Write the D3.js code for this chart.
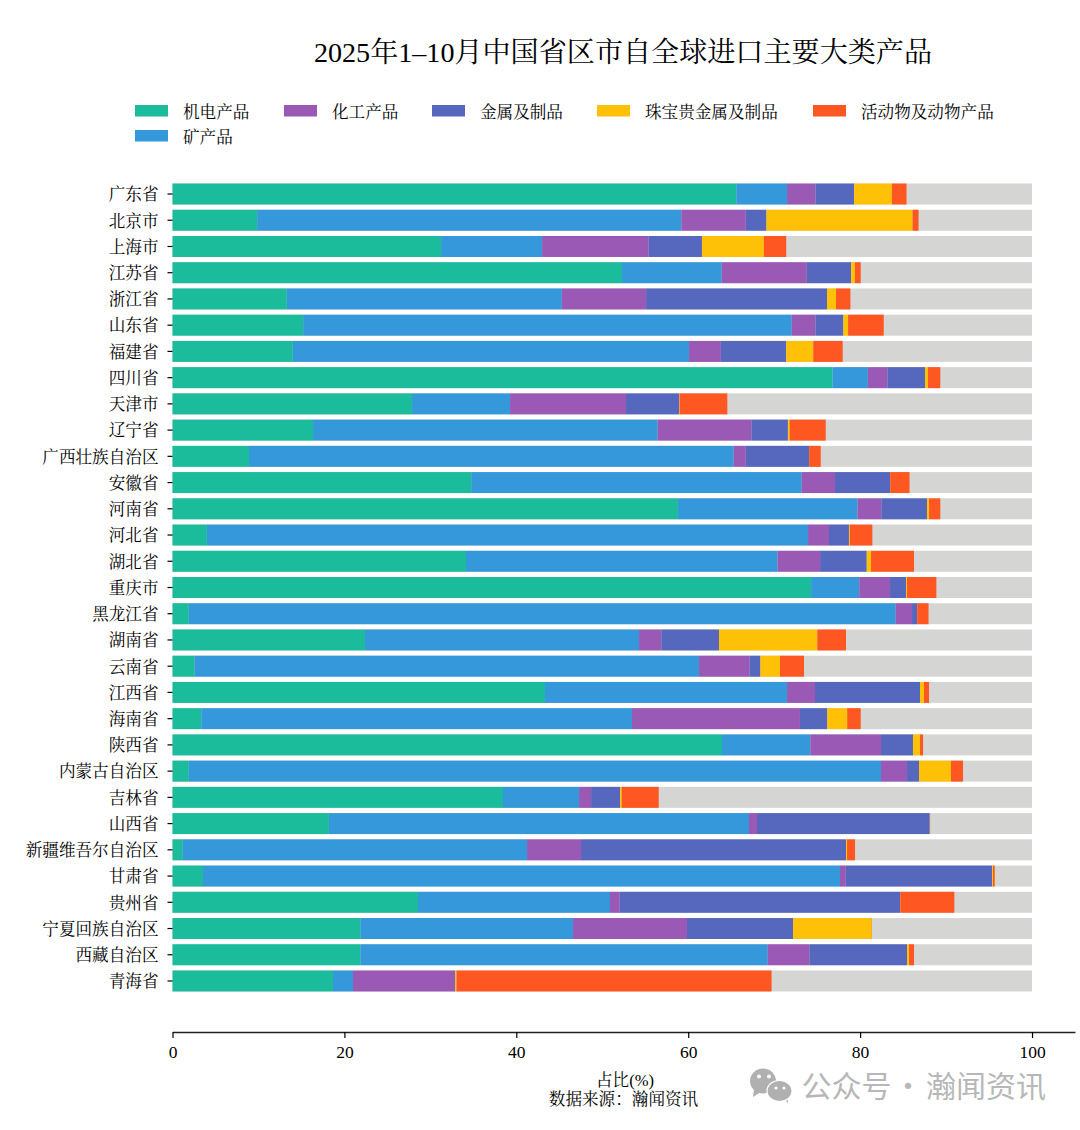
<!DOCTYPE html>
<html>
<head>
<meta charset="utf-8">
<script src="https://cdn.jsdelivr.net/npm/d3@7"></script>
<style>
  html, body { margin: 0; padding: 0; background: #fff; }
  svg { display: block; }
  text { font-family: "Liberation Serif", "Noto Serif CJK SC", "Noto Sans CJK SC", serif; fill: #000; }
  .watermark { font-family: "Noto Sans CJK SC", sans-serif; fill: #b7b7b7; }
</style>
</head>
<body>
<div id="chart"></div>
<script>
// =====================================
// DATA
// =====================================

const provinces = ["广东省", "北京市", "上海市", "江苏省", "浙江省", "山东省", "福建省", "四川省", "天津市", "辽宁省", "广西壮族自治区", "安徽省", "河南省", "河北省", "湖北省", "重庆市", "黑龙江省", "湖南省", "云南省", "江西省", "海南省", "陕西省", "内蒙古自治区", "吉林省", "山西省", "新疆维吾尔自治区", "甘肃省", "贵州省", "宁夏回族自治区", "西藏自治区", "青海省"];

const categories = ["机电产品", "矿产品", "化工产品", "金属及制品", "珠宝贵金属及制品", "活动物及动物产品"];

const jidian = [65.6, 9.85, 31.25, 52.3, 13.3, 15.2, 14.0, 76.8, 27.87, 16.35, 8.9, 34.75, 58.8, 4.0, 34.15, 74.3, 1.9, 22.4, 2.55, 43.34, 3.35, 63.93, 1.9, 38.45, 18.2, 1.2, 3.55, 28.56, 21.85, 21.85, 18.67];
const kuang = [5.9, 49.35, 11.75, 11.6, 32.0, 56.84, 46.1, 4.1, 11.4, 40.1, 56.4, 38.45, 20.9, 69.94, 36.25, 5.6, 82.24, 31.88, 58.71, 28.16, 50.11, 10.27, 80.53, 8.85, 48.87, 40.05, 74.11, 22.34, 24.75, 47.4, 2.33];
const huagong = [3.3, 7.5, 12.4, 9.9, 9.8, 2.76, 3.7, 2.27, 13.49, 10.9, 1.4, 3.88, 2.77, 2.44, 4.94, 3.58, 1.9, 2.59, 5.89, 3.25, 19.54, 8.23, 3.03, 1.4, 0.93, 6.28, 0.67, 1.13, 13.26, 4.85, 11.87];
const jinshu = [4.5, 2.4, 6.2, 5.15, 21.05, 3.25, 7.6, 4.38, 6.17, 4.25, 7.35, 6.4, 5.31, 2.32, 5.43, 1.86, 0.58, 6.71, 1.25, 12.22, 3.18, 3.72, 1.39, 3.37, 20.1, 30.83, 17.02, 32.61, 12.34, 11.36, 0.03];
const zhubao = [4.4, 17.0, 7.2, 0.45, 1.05, 0.55, 3.15, 0.35, 0.07, 0.2, 0.02, 0.02, 0.24, 0.1, 0.5, 0.12, 0.02, 11.44, 2.28, 0.46, 2.32, 0.82, 3.72, 0.19, 0.02, 0.12, 0.11, 0.03, 9.15, 0.23, 0.14];
const huodongwu = [1.7, 0.7, 2.6, 0.67, 1.67, 4.15, 3.42, 1.43, 5.55, 4.2, 1.35, 2.25, 1.31, 2.62, 5.0, 3.41, 1.32, 3.34, 2.79, 0.59, 1.57, 0.35, 1.4, 4.31, 0.02, 0.93, 0.2, 6.29, 0.03, 0.58, 36.66];

const seriesValues = [jidian, kuang, huagong, jinshu, zhubao, huodongwu];

const xTicks = [0, 20, 40, 60, 80, 100];

const colors = ["#1abc9c", "#3498db", "#9b59b6", "#5568be", "#ffc107", "#ff5722"];
const trackColor = "#d5d5d3";

// =====================================
// DIMENSIONS
// =====================================

const width = 1080;
const height = 1130;
const fontSize = 16.6;

const svg = d3.select("#chart")
  .append("svg")
  .attr("width", width)
  .attr("height", height)
  .attr("viewBox", `0 0 ${width} ${height}`);

// =====================================
// SCALES
// =====================================

const x = d3.scaleLinear()
  .domain([0, 105])
  .range([172.5, 1075]);

const y = d3.scaleBand()
  .domain(provinces)
  .range([180.9, 994.1])
  .paddingInner(0.2)
  .paddingOuter(0.1);

// =====================================
// STACK
// =====================================

const table = provinces.map((p, i) => {
  const row = { province: p };
  categories.forEach((c, k) => { row[c] = seriesValues[k][i]; });
  return row;
});

const stacked = d3.stack().keys(categories)(table);

// =====================================
// BARS
// =====================================

svg.append("g")
  .selectAll("rect")
  .data(provinces)
  .join("rect")
  .attr("x", x(0))
  .attr("y", d => y(d))
  .attr("width", x(100) - x(0))
  .attr("height", y.bandwidth())
  .attr("fill", trackColor);

svg.append("g")
  .selectAll("g")
  .data(stacked)
  .join("g")
  .attr("fill", (d, i) => colors[i])
  .selectAll("rect")
  .data(d => d)
  .join("rect")
  .attr("x", d => x(d[0]))
  .attr("y", d => y(d.data.province))
  .attr("width", d => x(d[1]) - x(d[0]))
  .attr("height", y.bandwidth());

// =====================================
// AXES
// =====================================

const xAxis = svg.append("g")
  .attr("transform", "translate(0,1032)")
  .call(d3.axisBottom(x).tickValues(xTicks).tickFormat(d3.format("d")).tickSize(6).tickPadding(7.5).tickSizeOuter(0));

xAxis.selectAll("text").style("font-size", "17.5px");
xAxis.selectAll("line").attr("stroke", "#000").attr("stroke-width", 1.2);
xAxis.select(".domain").attr("stroke", "#222").attr("stroke-width", 1.5);

const yAxis = svg.append("g")
  .attr("transform", `translate(${x(0)},0)`)
  .call(d3.axisLeft(y).tickSize(5).tickPadding(9));

yAxis.select(".domain").remove();
yAxis.selectAll("text").style("font-size", fontSize + "px").attr("dy", "0.38em");
yAxis.selectAll("line").attr("stroke", "#000").attr("stroke-width", 1.2);

// =====================================
// LEGEND
// =====================================

// matplotlib-style column order: 机电/矿产 share the first column
const legendColumns = [135, 284, 432, 597, 813];
const legendRows = [105, 130];
const legendSlots = [[0, 0], [0, 1], [1, 0], [2, 0], [3, 0], [4, 0]];

const legend = svg.append("g")
  .selectAll("g")
  .data(categories)
  .join("g")
  .attr("transform", (d, i) => `translate(${legendColumns[legendSlots[i][0]]},${legendRows[legendSlots[i][1]]})`);

legend.append("rect")
  .attr("width", 33)
  .attr("height", 11.5)
  .attr("fill", (d, i) => colors[i]);

legend.append("text")
  .attr("x", 48)
  .attr("y", 12.5)
  .style("font-size", fontSize + "px")
  .text(d => d);

// =====================================
// TEXT
// =====================================

svg.append("text")
  .attr("x", 623)
  .attr("y", 62)
  .attr("text-anchor", "middle")
  .style("font-size", "28.1px")
  .text("2025年1–10月中国省区市自全球进口主要大类产品");

svg.append("text")
  .attr("x", 625)
  .attr("y", 1086)
  .attr("text-anchor", "middle")
  .style("font-size", fontSize + "px")
  .text("占比(%)");

svg.append("text")
  .attr("x", 623.5)
  .attr("y", 1104.5)
  .attr("text-anchor", "middle")
  .style("font-size", fontSize + "px")
  .text("数据来源：瀚闻资讯");

// =====================================
// WATERMARK
// =====================================

const mark = svg.append("g");
const markColor = "#b0b0b0";

mark.append("path").attr("d", "M754 1089 L753 1097 L761 1092 Z").attr("fill", markColor);
mark.append("ellipse").attr("cx", 763).attr("cy", 1081).attr("rx", 13).attr("ry", 12.5).attr("fill", markColor);
mark.append("path").attr("d", "M782 1098 L788 1103 L787 1094 Z").attr("fill", markColor);
mark.append("ellipse").attr("cx", 779.5).attr("cy", 1091).attr("rx", 12.5).attr("ry", 10.5).attr("fill", markColor).attr("stroke", "#fff").attr("stroke-width", 1.2);
mark.append("circle").attr("cx", 759).attr("cy", 1076.5).attr("r", 2).attr("fill", "#fff");
mark.append("circle").attr("cx", 769).attr("cy", 1076.5).attr("r", 2).attr("fill", "#fff");
mark.append("circle").attr("cx", 776).attr("cy", 1088).attr("r", 1.6).attr("fill", "#fff");
mark.append("circle").attr("cx", 784).attr("cy", 1088).attr("r", 1.6).attr("fill", "#fff");

mark.append("text").attr("class", "watermark").attr("x", 801.5).attr("y", 1097).style("font-size", "30px").text("公众号");
mark.append("text").attr("class", "watermark").attr("x", 893).attr("y", 1097).style("font-size", "30px").text("·");
mark.append("text").attr("class", "watermark").attr("x", 926).attr("y", 1097).style("font-size", "30px").text("瀚闻资讯");
</script>
</body>
</html>
